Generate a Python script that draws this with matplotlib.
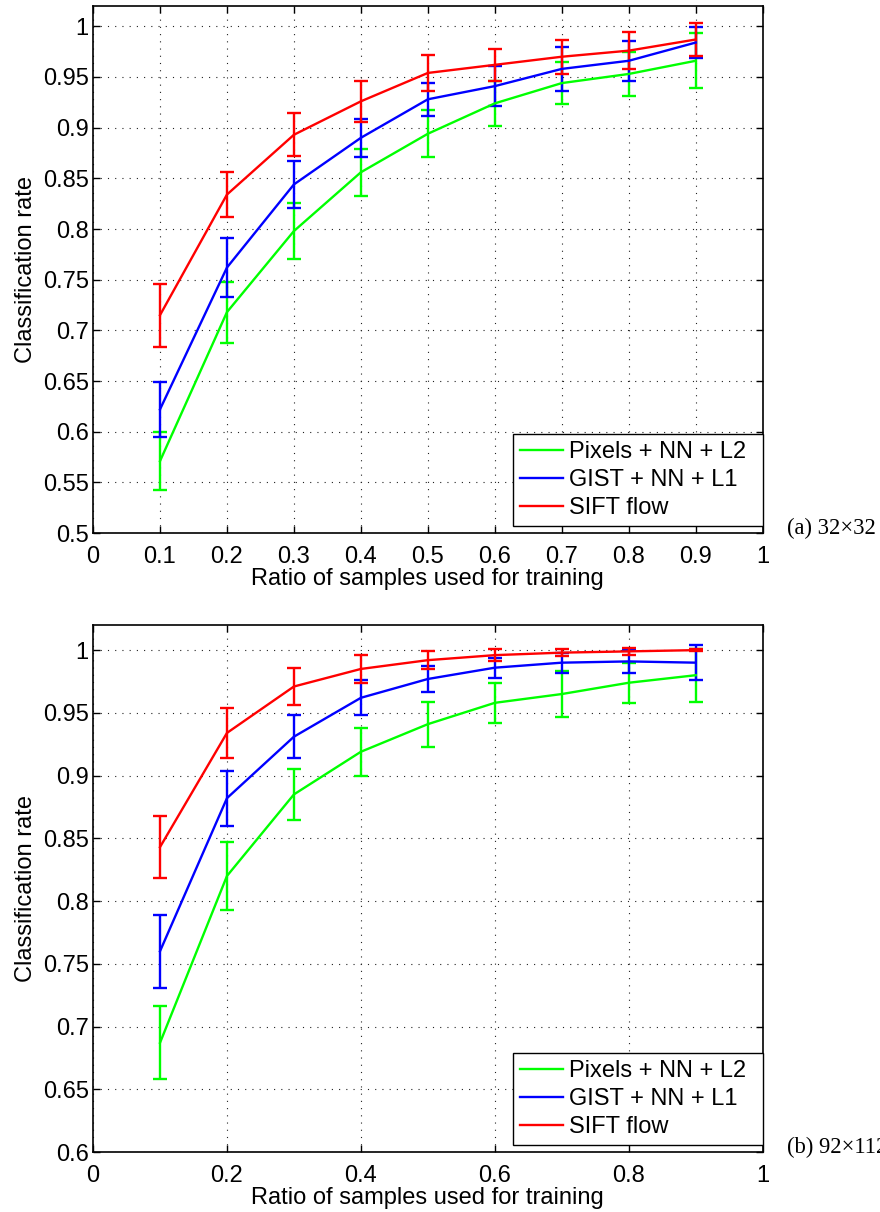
import numpy as np
import matplotlib
matplotlib.use("Agg")
import matplotlib.pyplot as plt
from matplotlib.lines import Line2D

plt.rcParams['font.family'] = ['Liberation Sans', 'DejaVu Sans']

# ratio of training samples
ratio = [0.1, 0.2, 0.3, 0.4, 0.5, 0.6, 0.7, 0.8, 0.9]
labels = ['Pixels + NN + L2', 'GIST + NN + L1', 'SIFT flow']
colors = ['#00ff00', '#0000ff', '#ff0000']

# (a) 32x32
pix_a = [0.571, 0.718, 0.798, 0.856, 0.894, 0.924, 0.944, 0.953, 0.966]
pix_a_err = [0.029, 0.030, 0.028, 0.023, 0.023, 0.022, 0.021, 0.022, 0.027]
gist_a = [0.622, 0.762, 0.844, 0.890, 0.928, 0.941, 0.958, 0.966, 0.984]
gist_a_err = [0.027, 0.029, 0.023, 0.019, 0.016, 0.020, 0.022, 0.020, 0.015]
sift_a = [0.715, 0.834, 0.893, 0.926, 0.954, 0.962, 0.970, 0.976, 0.987]
sift_a_err = [0.031, 0.022, 0.021, 0.020, 0.018, 0.016, 0.017, 0.018, 0.016]

# (b) 92x112
pix_b = [0.687, 0.820, 0.885, 0.919, 0.941, 0.958, 0.965, 0.974, 0.980]
pix_b_err = [0.029, 0.027, 0.020, 0.019, 0.018, 0.016, 0.018, 0.016, 0.021]
gist_b = [0.760, 0.882, 0.931, 0.962, 0.977, 0.986, 0.990, 0.991, 0.990]
gist_b_err = [0.029, 0.022, 0.017, 0.014, 0.010, 0.008, 0.008, 0.009, 0.014]
sift_b = [0.843, 0.934, 0.971, 0.985, 0.992, 0.996, 0.998, 0.999, 1.000]
sift_b_err = [0.025, 0.020, 0.015, 0.011, 0.007, 0.005, 0.003, 0.003, 0.001]


def draw_panel(ax, series, errs, ylim, yticks, xticks, caption):
    for vals, err, col in zip(series, errs, colors):
        ax.errorbar(ratio, vals, yerr=err, color=col, lw=1.7, elinewidth=1.7,
                    capsize=5, capthick=1.7)
    ax.set_xlim(0, 1)
    ax.set_ylim(*ylim)
    ax.set_xticks(xticks)
    ax.set_xticklabels([('%g' % t) for t in xticks])
    ax.set_yticks(yticks)
    ax.set_yticklabels([('%g' % t) for t in yticks])
    ax.tick_params(direction='in', top=True, right=True, labelsize=17,
                   length=5, width=1, pad=3)
    ax.tick_params(axis='x', pad=9)
    ax.grid(True, linestyle=(0, (1, 5.5)), color='#222222', lw=0.8)
    for s in ax.spines.values():
        s.set_linewidth(1.2)
    ax.set_xlabel('Ratio of samples used for training', fontsize=17, labelpad=0)
    ax.set_ylabel('Classification rate', fontsize=17, labelpad=4)
    # legend box is 250 px wide, flush with the right spine
    w = 250 / 669.7
    handles = [Line2D([], [], color=c, lw=1.7) for c in colors]
    leg = ax.legend(handles, labels, loc='lower left', mode='expand',
                    bbox_to_anchor=(1 - w, 0.0135, w, 0.2), fontsize=17,
                    borderaxespad=0, fancybox=False, edgecolor='black',
                    framealpha=1, handlelength=1.85, handletextpad=0.25,
                    borderpad=0.3, labelspacing=0.25)
    leg.get_frame().set_linewidth(1.0)
    ax.text(1.037, 0.008, caption, transform=ax.transAxes, fontsize=16.3,
            family='Liberation Serif', va='center', ha='left', clip_on=False)


fig = plt.figure(figsize=(8.8, 12.12), dpi=100)
ax1 = fig.add_axes([0.1057, 0.5602, 0.761, 0.4348])
ax2 = fig.add_axes([0.1057, 0.0495, 0.761, 0.4348])

draw_panel(ax1, [pix_a, gist_a, sift_a], [pix_a_err, gist_a_err, sift_a_err],
           (0.5, 1.02), np.round(np.arange(0.5, 1.001, 0.05), 2),
           np.round(np.arange(0, 1.001, 0.1), 1), '(a) 32\u00d732')
draw_panel(ax2, [pix_b, gist_b, sift_b], [pix_b_err, gist_b_err, sift_b_err],
           (0.6, 1.02), np.round(np.arange(0.6, 1.001, 0.05), 2),
           np.round(np.arange(0, 1.001, 0.2), 1), '(b) 92\u00d7112')

fig.savefig('out.png', dpi=100)
